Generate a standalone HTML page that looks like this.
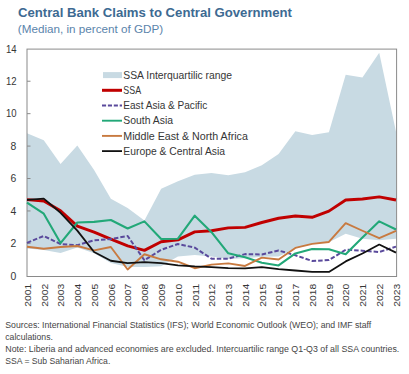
<!DOCTYPE html>
<html><head><meta charset="utf-8"><style>
html,body{margin:0;padding:0;background:#fff;}
body{width:409px;height:374px;overflow:hidden;position:relative;font-family:"Liberation Sans",sans-serif;}
svg{position:absolute;left:0;top:0;}
svg text{font-family:"Liberation Sans",sans-serif;}
</style></head><body>
<svg width="409" height="374" viewBox="0 0 409 374">
<polygon points="27.00,133.31 43.77,140.29 60.55,164.12 77.32,145.47 94.09,169.96 110.86,198.82 127.64,207.90 144.41,220.55 161.18,188.77 177.95,181.31 194.73,174.82 211.50,172.88 228.27,175.15 245.05,172.23 261.82,165.26 278.59,154.07 295.36,131.21 312.14,134.94 328.91,132.18 345.68,74.78 362.45,77.38 379.23,52.73 396.00,131.69 396.00,238.71 379.23,240.33 362.45,238.71 345.68,233.84 328.91,242.27 312.14,243.57 295.36,248.44 278.59,256.54 261.82,256.87 245.05,258.16 228.27,258.98 211.50,256.54 194.73,254.92 177.95,256.54 161.18,266.27 144.41,267.08 127.64,267.08 110.86,263.03 94.09,253.30 77.32,247.62 60.55,252.98 43.77,250.06 27.00,248.44" fill="#c8dae3"/>
<rect x="27" y="49.1" width="369.6" height="227.4" fill="none" stroke="#8a8a8a" stroke-width="1"/>
<g stroke="#8a8a8a" stroke-width="1"><line x1="27" y1="243.37" x2="30.5" y2="243.37"/><line x1="27" y1="210.94" x2="30.5" y2="210.94"/><line x1="27" y1="178.51" x2="30.5" y2="178.51"/><line x1="27" y1="146.09" x2="30.5" y2="146.09"/><line x1="27" y1="113.66" x2="30.5" y2="113.66"/><line x1="27" y1="81.23" x2="30.5" y2="81.23"/></g>
<g font-size="10.4" fill="#363636"><text x="16.3" y="279.60" text-anchor="end">0</text><text x="16.3" y="247.17" text-anchor="end">2</text><text x="16.3" y="214.74" text-anchor="end">4</text><text x="16.3" y="182.31" text-anchor="end">6</text><text x="16.3" y="149.89" text-anchor="end">8</text><text x="16.5" y="117.46" text-anchor="end" textLength="10.6" lengthAdjust="spacingAndGlyphs">10</text><text x="16.5" y="85.03" text-anchor="end" textLength="10.6" lengthAdjust="spacingAndGlyphs">12</text><text x="16.5" y="52.60" text-anchor="end" textLength="10.6" lengthAdjust="spacingAndGlyphs">14</text></g>
<g font-size="9.7" fill="#363636"><text transform="translate(30.80,283.8) rotate(-90)" text-anchor="end" textLength="23" lengthAdjust="spacingAndGlyphs">2001</text><text transform="translate(47.57,283.8) rotate(-90)" text-anchor="end" textLength="23" lengthAdjust="spacingAndGlyphs">2002</text><text transform="translate(64.35,283.8) rotate(-90)" text-anchor="end" textLength="23" lengthAdjust="spacingAndGlyphs">2003</text><text transform="translate(81.12,283.8) rotate(-90)" text-anchor="end" textLength="23" lengthAdjust="spacingAndGlyphs">2004</text><text transform="translate(97.89,283.8) rotate(-90)" text-anchor="end" textLength="23" lengthAdjust="spacingAndGlyphs">2005</text><text transform="translate(114.66,283.8) rotate(-90)" text-anchor="end" textLength="23" lengthAdjust="spacingAndGlyphs">2006</text><text transform="translate(131.44,283.8) rotate(-90)" text-anchor="end" textLength="23" lengthAdjust="spacingAndGlyphs">2007</text><text transform="translate(148.21,283.8) rotate(-90)" text-anchor="end" textLength="23" lengthAdjust="spacingAndGlyphs">2008</text><text transform="translate(164.98,283.8) rotate(-90)" text-anchor="end" textLength="23" lengthAdjust="spacingAndGlyphs">2009</text><text transform="translate(181.75,283.8) rotate(-90)" text-anchor="end" textLength="23" lengthAdjust="spacingAndGlyphs">2010</text><text transform="translate(198.53,283.8) rotate(-90)" text-anchor="end" textLength="23" lengthAdjust="spacingAndGlyphs">2011</text><text transform="translate(215.30,283.8) rotate(-90)" text-anchor="end" textLength="23" lengthAdjust="spacingAndGlyphs">2012</text><text transform="translate(232.07,283.8) rotate(-90)" text-anchor="end" textLength="23" lengthAdjust="spacingAndGlyphs">2013</text><text transform="translate(248.85,283.8) rotate(-90)" text-anchor="end" textLength="23" lengthAdjust="spacingAndGlyphs">2014</text><text transform="translate(265.62,283.8) rotate(-90)" text-anchor="end" textLength="23" lengthAdjust="spacingAndGlyphs">2015</text><text transform="translate(282.39,283.8) rotate(-90)" text-anchor="end" textLength="23" lengthAdjust="spacingAndGlyphs">2016</text><text transform="translate(299.16,283.8) rotate(-90)" text-anchor="end" textLength="23" lengthAdjust="spacingAndGlyphs">2017</text><text transform="translate(315.94,283.8) rotate(-90)" text-anchor="end" textLength="23" lengthAdjust="spacingAndGlyphs">2018</text><text transform="translate(332.71,283.8) rotate(-90)" text-anchor="end" textLength="23" lengthAdjust="spacingAndGlyphs">2019</text><text transform="translate(349.48,283.8) rotate(-90)" text-anchor="end" textLength="23" lengthAdjust="spacingAndGlyphs">2020</text><text transform="translate(366.25,283.8) rotate(-90)" text-anchor="end" textLength="23" lengthAdjust="spacingAndGlyphs">2021</text><text transform="translate(383.03,283.8) rotate(-90)" text-anchor="end" textLength="23" lengthAdjust="spacingAndGlyphs">2022</text><text transform="translate(399.80,283.8) rotate(-90)" text-anchor="end" textLength="23" lengthAdjust="spacingAndGlyphs">2023</text></g>
<polyline points="27.00,199.63 43.77,200.93 60.55,210.82 77.32,226.06 94.09,232.06 110.86,239.19 127.64,245.84 144.41,250.38 161.18,241.79 177.95,239.84 194.73,231.90 211.50,230.76 228.27,227.84 245.05,227.36 261.82,222.49 278.59,218.28 295.36,216.01 312.14,217.30 328.91,211.14 345.68,199.95 362.45,198.98 379.23,196.87 396.00,199.95" fill="none" stroke="#c00000" stroke-width="2.9" stroke-linejoin="round"/>
<polyline points="27.00,242.92 43.77,235.95 60.55,244.06 77.32,245.19 94.09,240.33 110.86,239.03 127.64,235.95 144.41,260.27 161.18,249.73 177.95,244.06 194.73,247.62 211.50,258.65 228.27,258.65 245.05,254.11 261.82,254.44 278.59,250.54 295.36,255.25 312.14,260.92 328.91,260.11 345.68,249.73 362.45,250.71 379.23,252.00 396.00,246.65" fill="none" stroke="#5a4a9c" stroke-width="2" stroke-dasharray="4.5,2" stroke-linejoin="round"/>
<polyline points="27.00,202.55 43.77,213.74 60.55,243.09 77.32,222.49 94.09,221.84 110.86,220.06 127.64,228.49 144.41,221.36 161.18,239.03 177.95,238.71 194.73,215.68 211.50,232.22 228.27,253.30 245.05,257.35 261.82,262.70 278.59,265.46 295.36,253.46 312.14,249.08 328.91,249.25 345.68,254.27 362.45,237.41 379.23,221.36 396.00,229.47" fill="none" stroke="#22a878" stroke-width="2.1" stroke-linejoin="round"/>
<polyline points="27.00,246.81 43.77,248.76 60.55,246.98 77.32,246.00 94.09,250.38 110.86,246.98 127.64,269.51 144.41,254.27 161.18,259.30 177.95,261.73 194.73,268.22 211.50,264.65 228.27,263.35 245.05,265.95 261.82,257.68 278.59,259.46 295.36,247.95 312.14,243.90 328.91,241.95 345.68,223.14 362.45,230.76 379.23,238.22 396.00,230.76" fill="none" stroke="#c87a40" stroke-width="1.9" stroke-linejoin="round"/>
<polyline points="27.00,199.79 43.77,198.66 60.55,212.76 77.32,230.60 94.09,252.00 110.86,260.76 127.64,263.03 144.41,262.06 161.18,263.03 177.95,265.30 194.73,266.43 211.50,267.08 228.27,268.22 245.05,268.38 261.82,267.08 278.59,269.03 295.36,270.49 312.14,271.95 328.91,271.95 345.68,261.41 362.45,253.46 379.23,244.54 396.00,252.65" fill="none" stroke="#111" stroke-width="1.8" stroke-linejoin="round"/>
<g font-size="10.4" fill="#363636"><rect x="103" y="72.1" width="19" height="6" fill="#c8dae3"/><text x="123.3" y="78.5" textLength="108.8" lengthAdjust="spacingAndGlyphs">SSA Interquartilic range</text><line x1="102" y1="90.3" x2="122" y2="90.3" stroke="#c00000" stroke-width="3"/><text x="123.3" y="93.5" textLength="17.8" lengthAdjust="spacingAndGlyphs">SSA</text><line x1="102" y1="105.5" x2="122" y2="105.5" stroke="#5a4a9c" stroke-width="1.8" stroke-dasharray="4.1,1.8"/><text x="123.3" y="108.9" textLength="83.9" lengthAdjust="spacingAndGlyphs">East Asia &amp; Pacific</text><line x1="102" y1="120.7" x2="122" y2="120.7" stroke="#22a878" stroke-width="1.9"/><text x="123.3" y="124.4" textLength="49.7" lengthAdjust="spacingAndGlyphs">South Asia</text><line x1="102" y1="135.9" x2="122" y2="135.9" stroke="#c87a40" stroke-width="1.9"/><text x="123.3" y="139.6" textLength="124.6" lengthAdjust="spacingAndGlyphs">Middle East &amp; North Africa</text><line x1="102" y1="151.1" x2="122" y2="151.1" stroke="#111" stroke-width="1.8"/><text x="123.3" y="154.6" textLength="101.7" lengthAdjust="spacingAndGlyphs">Europe &amp; Central Asia</text></g>
<text x="18" y="17.2" font-size="13.2" font-weight="bold" fill="#3d6a92" textLength="274" lengthAdjust="spacingAndGlyphs">Central Bank Claims to Central Government</text>
<text x="17.8" y="33.4" font-size="10.6" fill="#5a84ab" textLength="145.4" lengthAdjust="spacingAndGlyphs">(Median, in percent of GDP)</text>
<g font-size="9.2" fill="#454545">
<text x="5.3" y="328.2" textLength="366" lengthAdjust="spacingAndGlyphs">Sources: International Financial Statistics (IFS); World Economic Outlook (WEO); and IMF staff</text>
<text x="5.3" y="340.1" textLength="47.6" lengthAdjust="spacingAndGlyphs">calculations.</text>
<text x="5.3" y="352.1" textLength="394" lengthAdjust="spacingAndGlyphs">Note: Liberia and advanced economies are excluded. Intercuartilic range Q1-Q3 of all SSA countries.</text>
<text x="5.3" y="364" textLength="105" lengthAdjust="spacingAndGlyphs">SSA = Sub Saharian Africa.</text>
</g>
</svg>
</body></html>
